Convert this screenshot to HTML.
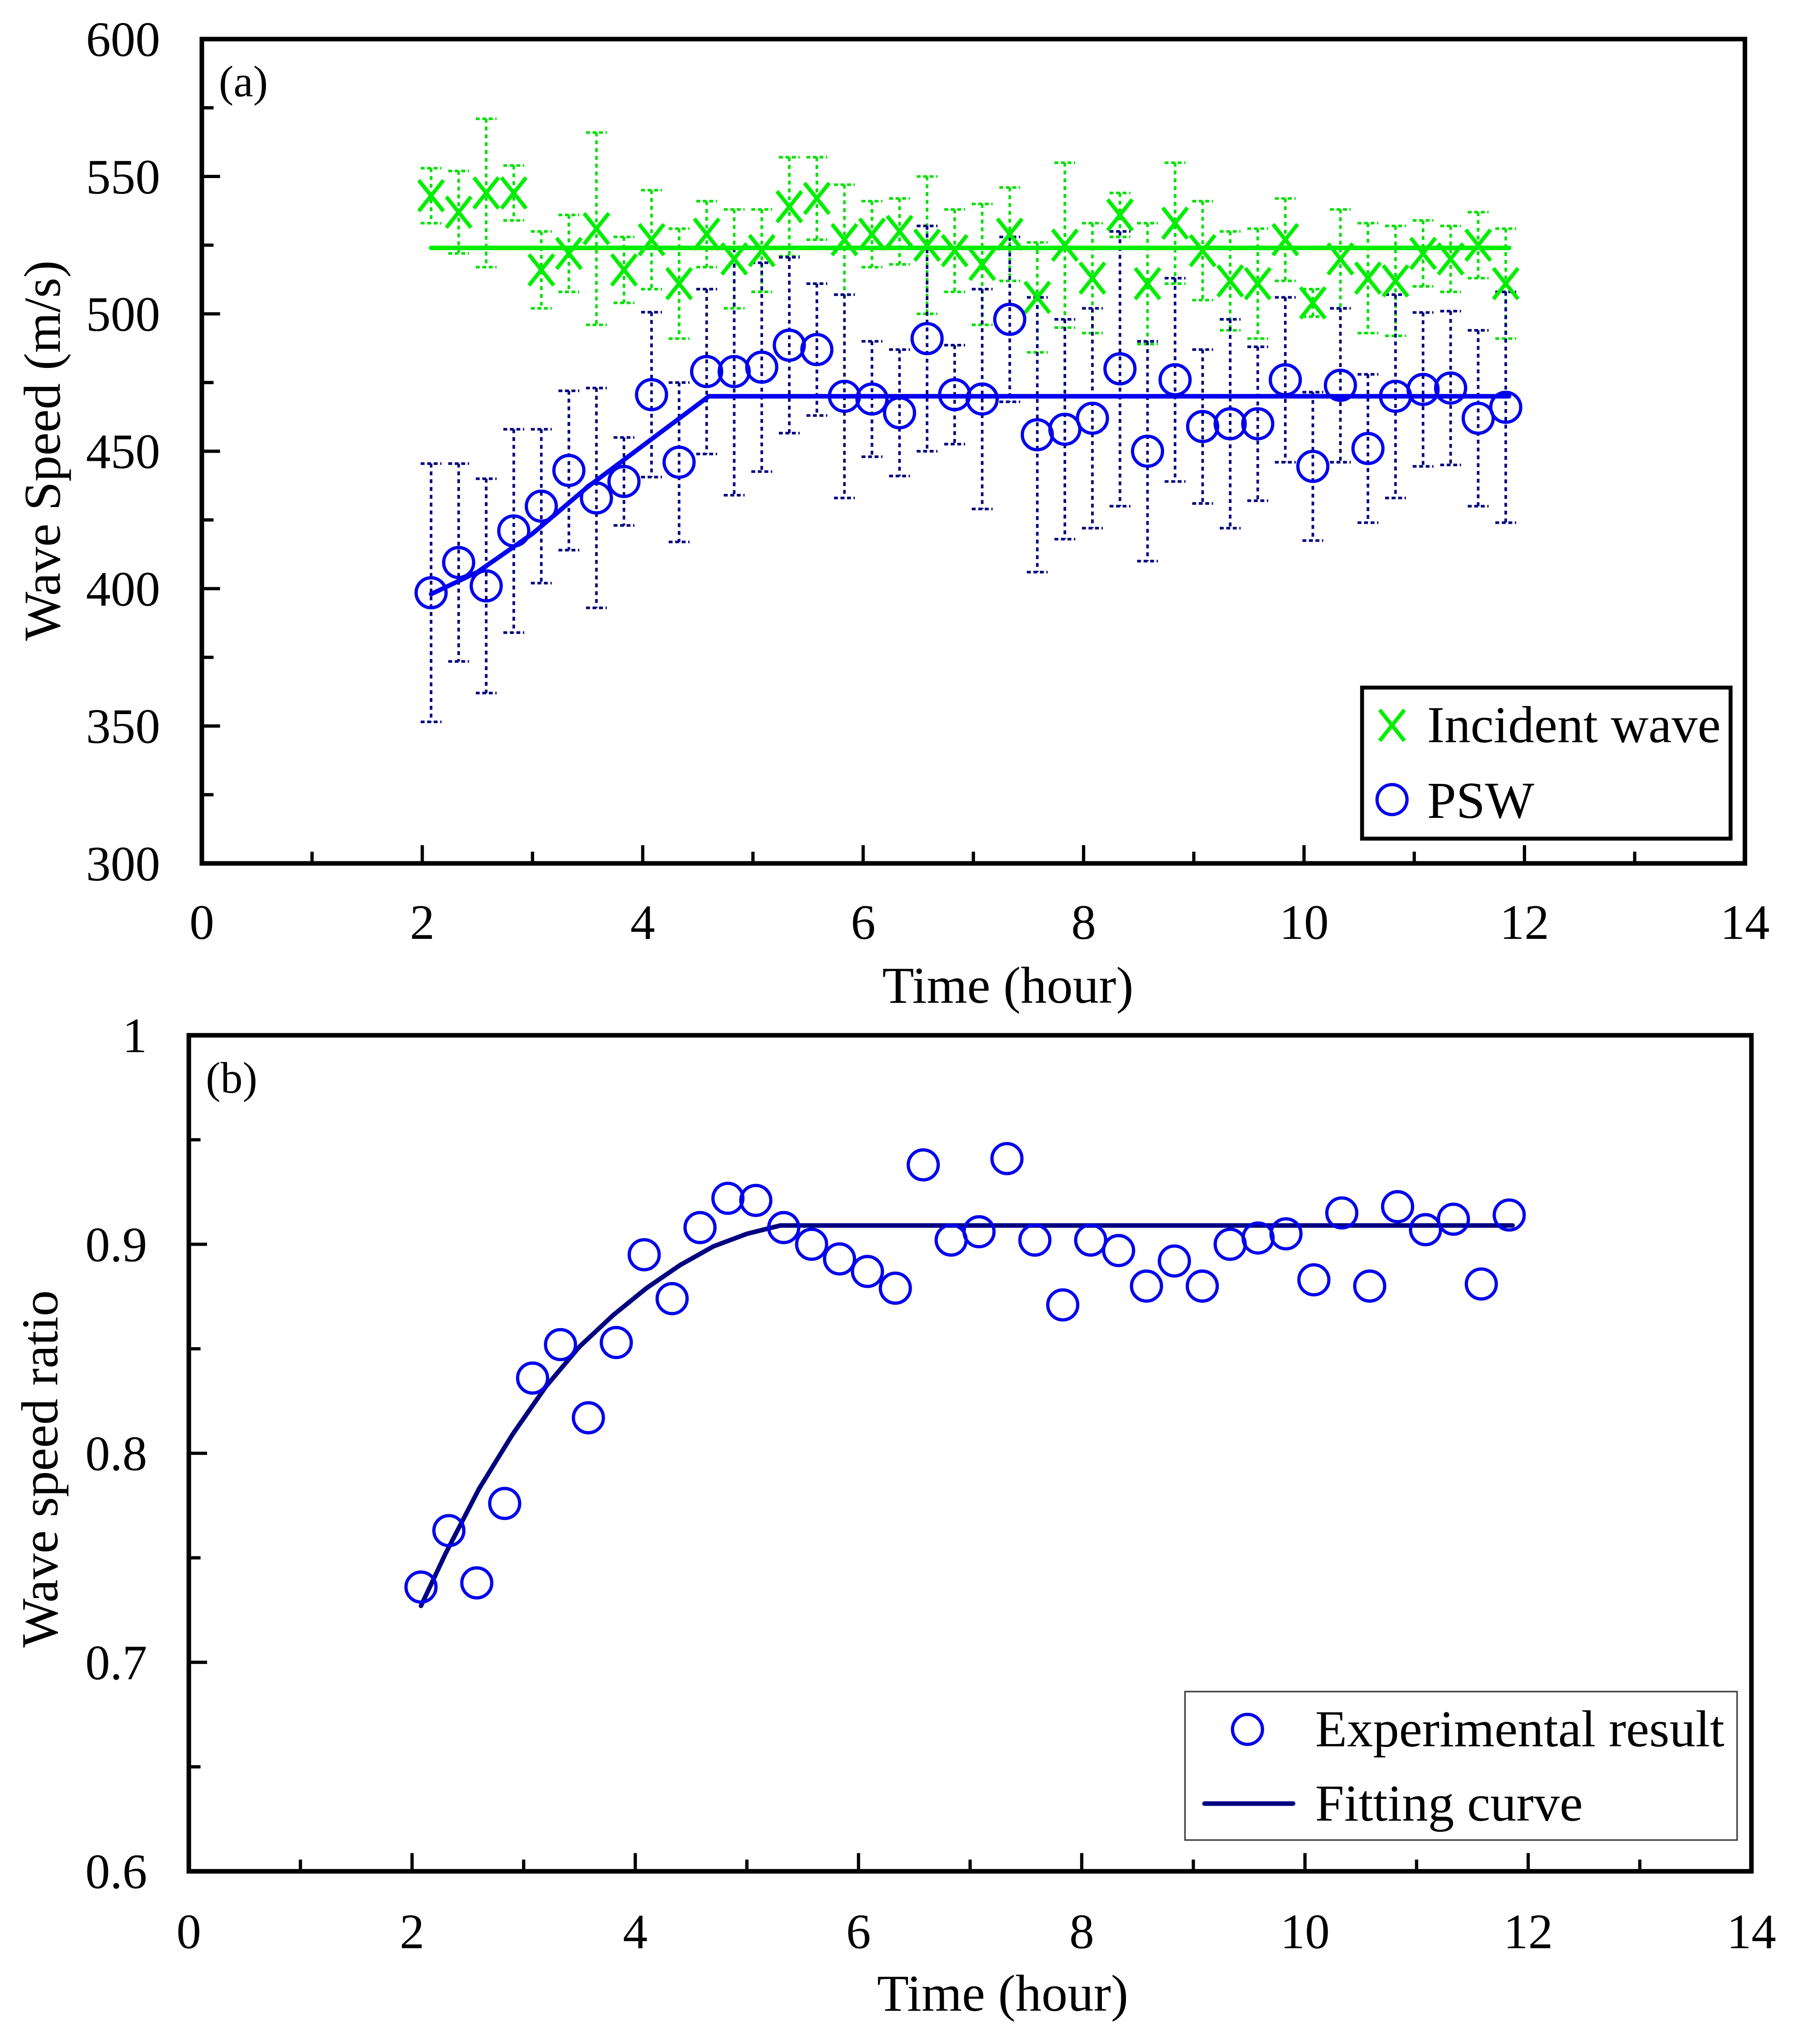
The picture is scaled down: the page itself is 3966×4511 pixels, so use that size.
<!DOCTYPE html>
<html><head><meta charset="utf-8"><style>
html,body{margin:0;padding:0;background:#fff}
svg{display:block}
text{font-family:"Liberation Serif",serif;fill:#000}
</style></head><body>
<svg id="fig" width="3966" height="4511" viewBox="0 0 1380 1569.6" xmlns="http://www.w3.org/2000/svg">
<g id="pa"></g>
<g id="pb"></g>
</svg>
<script>
const times=[2.08,2.33,2.58,2.83,3.08,3.33,3.58,3.83,4.08,4.33,4.58,4.83,5.08,5.33,5.58,5.83,6.08,6.33,6.58,6.83,7.08,7.33,7.58,7.83,8.08,8.33,8.58,8.83,9.08,9.33,9.58,9.83,10.08,10.33,10.58,10.83,11.08,11.33,11.58,11.83];
const incident=[543,537,544,544,516,522,531,516,527,511,529,520,523,539,542,527,529,530,525,523,518,529,506,525,513,536,511,533,523,512,511,527,504,520,513,512,522,520,525,511];
const incidentErr=[10,15,27,10,14,14,35,12,18,20,12,18,15,18,15,20,12,12,25,15,22,17,20,30,20,8,22,22,18,18,20,15,5,18,20,20,12,12,12,20];
const psw=[398.5,409.5,401,421,430,443,433,439,470.6,446,479,479,480.6,488.6,487,470,469,464,491,470.6,469,498,456,458,462,480,450,476,459,460,460,476,444.5,474,451,470,472.5,473,462,466];
const pswErr=[47,36,39,37,28,29,40,16,30,29,30,45,38,32,24,37,21,23,41,18,40,30,50,40,40,50,40,37,28,38,28,30,27,28,27,37,28,28,32,42];
const incFitT=[2.08,11.86];
const incFitV=[524,524];
const pswFitT=[2.08,2.5,3,3.5,4,4.6,11.86];
const pswFitV=[398,406,420,437,452,470,470];
const ratio=[0.736,0.763,0.738,0.776,0.836,0.852,0.817,0.853,0.895,0.874,0.908,0.922,0.921,0.908,0.900,0.893,0.887,0.879,0.938,0.902,0.906,0.941,0.902,0.871,0.902,0.897,0.880,0.892,0.880,0.900,0.903,0.905,0.883,0.915,0.880,0.918,0.907,0.912,0.881,0.914];
const ratioFitT=[2.08,2.3,2.6,2.9,3.2,3.5,3.8,4.1,4.4,4.7,5.0,5.3,11.86];
const ratioFitV=[0.727,0.752,0.783,0.809,0.832,0.851,0.866,0.879,0.890,0.899,0.905,0.909,0.909];
const xTicks=[0,2,4,6,8,10,12,14];
const yTicksA=[300,350,400,450,500,550,600];
const yTicksB=[0.6,0.7,0.8,0.9,1];
const yLabelsB=['0.6','0.7','0.8','0.9','1'];

const NS='http://www.w3.org/2000/svg';
function mk(parent,tag,attrs,name){const e=document.createElementNS(NS,tag);for(const k in attrs)e.setAttribute(k,attrs[k]);


parent.appendChild(e);return e;}
function txt(parent,x,y,s,anchor,size,name,rot){const t=mk(parent,'text',{x:x,y:y,'text-anchor':anchor,'font-size':size},name);if(rot)t.setAttribute('transform',rot);t.textContent=s;return t;}

// Panel A
const pa=document.getElementById('pa');
const A={l:155,r:1340,t:30,b:663,x0:0,x1:14,y0:300,y1:600};
const ax=v=>A.l+(v-A.x0)/(A.x1-A.x0)*(A.r-A.l);
const ay=v=>A.b-(v-A.y0)/(A.y1-A.y0)*(A.b-A.t);
mk(pa,'rect',{x:A.l,y:A.t,width:A.r-A.l,height:A.b-A.t,fill:'none',stroke:'#000','stroke-width':3.5},'plot-frame-a');
xTicks.forEach((v,i)=>{txt(pa,ax(v),A.b+58,String(v),'middle',38,'x-tick-label-a');
 if(i<xTicks.length-1){mk(pa,'line',{x1:ax(v+1),x2:ax(v+1),y1:A.b,y2:A.b-9,stroke:'#000','stroke-width':2.5},'x-minor-tick-a');}
 if(i>0&&i<xTicks.length-1) mk(pa,'line',{x1:ax(v),x2:ax(v),y1:A.b,y2:A.b-14,stroke:'#000','stroke-width':2.5},'x-major-tick-a');});
yTicksA.forEach((v,i)=>{txt(pa,A.l-32,ay(v)+13,String(v),'end',38,'y-tick-label-a');
 if(i<yTicksA.length-1) mk(pa,'line',{x1:A.l,x2:A.l+9,y1:ay(v+25),y2:ay(v+25),stroke:'#000','stroke-width':2.5},'y-minor-tick-a');
 if(i>0&&i<yTicksA.length-1) mk(pa,'line',{x1:A.l,x2:A.l+14,y1:ay(v),y2:ay(v),stroke:'#000','stroke-width':2.5},'y-major-tick-a');});
txt(pa,774,770,'Time (hour)','middle',40,'x-axis-title-a');
txt(pa,46,346,'Wave Speed (m/s)','middle',40,'y-axis-title-a','rotate(-90 46 346)');
txt(pa,168,74,'(a)','start',34,'panel-label-a');
function errbar(g,x,v,e,yf,col,name){
 mk(g,'line',{x1:x,x2:x,y1:yf(v+e),y2:yf(v-e),stroke:col,'stroke-width':2,'stroke-dasharray':'3 3'},name);
 mk(g,'line',{x1:x-8,x2:x+8,y1:yf(v+e),y2:yf(v+e),stroke:col,'stroke-width':2,'stroke-dasharray':'3 2'},name+'-cap');
 mk(g,'line',{x1:x-8,x2:x+8,y1:yf(v-e),y2:yf(v-e),stroke:col,'stroke-width':2,'stroke-dasharray':'3 2'},name+'-cap');}
times.forEach((t,i)=>{errbar(pa,ax(t),incident[i],incidentErr[i],ay,'#00e000','incident-error-bar');});
times.forEach((t,i)=>{errbar(pa,ax(t),psw[i],pswErr[i],ay,'#000080','psw-error-bar');});
function poly(g,T,V,xf,yf,col,w,name){mk(g,'polyline',{points:T.map((t,i)=>xf(t)+','+yf(V[i])).join(' '),fill:'none',stroke:col,'stroke-width':w,'stroke-linecap':'round','stroke-linejoin':'round'},name);}
poly(pa,incFitT,incFitV,ax,ay,'#00ee00',3.5,'incident-fit-line');
poly(pa,pswFitT,pswFitV,ax,ay,'#0000ee',3.5,'psw-fit-line');
function cross(g,x,y,s,col,name){mk(g,'path',{d:`M${x-s},${y-s*1.25}L${x+s},${y+s*1.25}M${x-s},${y+s*1.25}L${x+s},${y-s*1.25}`,stroke:col,'stroke-width':3,fill:'none'},name);}
times.forEach((t,i)=>cross(pa,ax(t),ay(incident[i]),9.5,'#00ee00','incident-marker'));
times.forEach((t,i)=>mk(pa,'circle',{cx:ax(t),cy:ay(psw[i]),r:11.5,fill:'none',stroke:'#0000ee','stroke-width':2.5},'psw-marker'));
mk(pa,'rect',{x:1046,y:528,width:283,height:116,fill:'#fff',stroke:'#000','stroke-width':3},'legend-a');
cross(pa,1069,557,9.5,'#00ee00','legend-incident-marker');
txt(pa,1096,570,'Incident wave','start',40,'legend-incident-label');
mk(pa,'circle',{cx:1069,cy:614,r:11.5,fill:'none',stroke:'#0000ee','stroke-width':2.5},'legend-psw-marker');
txt(pa,1096,628,'PSW','start',40,'legend-psw-label');

// Panel B
const pb=document.getElementById('pb');
const B={l:145,r:1345,t:795,b:1437,x0:0,x1:14,y0:0.6,y1:1};
const bx=v=>B.l+(v-B.x0)/(B.x1-B.x0)*(B.r-B.l);
const by=v=>B.b-(v-B.y0)/(B.y1-B.y0)*(B.b-B.t);
mk(pb,'rect',{x:B.l,y:B.t,width:B.r-B.l,height:B.b-B.t,fill:'none',stroke:'#000','stroke-width':3.5},'plot-frame-b');
xTicks.forEach((v,i)=>{txt(pb,bx(v),B.b+59,String(v),'middle',38,'x-tick-label-b');
 if(i<xTicks.length-1) mk(pb,'line',{x1:bx(v+1),x2:bx(v+1),y1:B.b,y2:B.b-9,stroke:'#000','stroke-width':2.5},'x-minor-tick-b');
 if(i>0&&i<xTicks.length-1) mk(pb,'line',{x1:bx(v),x2:bx(v),y1:B.b,y2:B.b-14,stroke:'#000','stroke-width':2.5},'x-major-tick-b');});
yTicksB.forEach((v,i)=>{txt(pb,B.l-32,by(v)+13,yLabelsB[i],'end',38,'y-tick-label-b');
 if(i<yTicksB.length-1) mk(pb,'line',{x1:B.l,x2:B.l+9,y1:by(v+0.05),y2:by(v+0.05),stroke:'#000','stroke-width':2.5},'y-minor-tick-b');
 if(i>0&&i<yTicksB.length-1) mk(pb,'line',{x1:B.l,x2:B.l+14,y1:by(v),y2:by(v),stroke:'#000','stroke-width':2.5},'y-major-tick-b');});
txt(pb,770,1544,'Time (hour)','middle',40,'x-axis-title-b');
txt(pb,44,1128,'Wave speed ratio','middle',40,'y-axis-title-b','rotate(-90 44 1128)');
txt(pb,158,839,'(b)','start',34,'panel-label-b');
poly(pb,ratioFitT,ratioFitV,bx,by,'#000080',3.5,'fitting-curve');
times.forEach((t,i)=>mk(pb,'circle',{cx:bx(t),cy:by(ratio[i]),r:11.5,fill:'none',stroke:'#0000ee','stroke-width':2.5},'ratio-marker'));
mk(pb,'rect',{x:910,y:1299,width:424,height:114,fill:'#fff',stroke:'#444','stroke-width':1.2},'legend-b');
mk(pb,'circle',{cx:958,cy:1328,r:11.5,fill:'none',stroke:'#0000ee','stroke-width':2.5},'legend-experimental-marker');
txt(pb,1010,1341,'Experimental result','start',40,'legend-experimental-label');
mk(pb,'line',{x1:925,x2:993,y1:1385,y2:1385,stroke:'#000080','stroke-width':3.5,'stroke-linecap':'round'},'legend-fitting-line');
txt(pb,1010,1398,'Fitting curve','start',40,'legend-fitting-label');
</script>
</body></html>
